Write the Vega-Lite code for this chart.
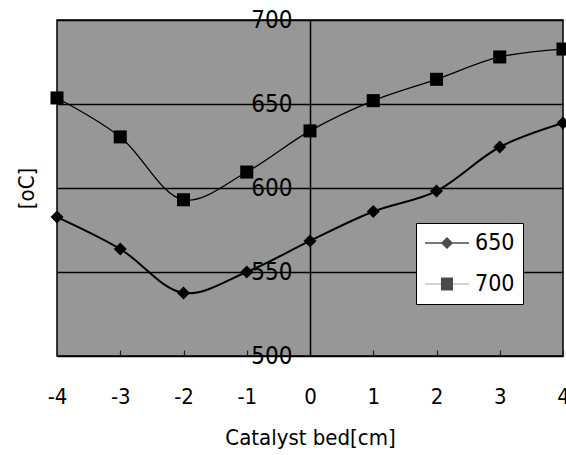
{
  "$schema": "https://vega.github.io/schema/vega-lite/v6.json",
  "width": 506,
  "height": 336,
  "autosize": {"type": "none"},
  "padding": {"left": 57, "top": 20, "right": 3, "bottom": 99},
  "background": "white",
  "config": {
    "view": {"fill": "#979797", "stroke": "black", "strokeWidth": 1.5},
    "font": "DejaVu Sans Condensed, DejaVu Sans"
  },
  "data": {
    "values": [
      {"series": "650", "x": -4, "t": 582.7},
      {"series": "650", "x": -3, "t": 563.7},
      {"series": "650", "x": -2, "t": 537.5},
      {"series": "650", "x": -1, "t": 550},
      {"series": "650", "x": 0, "t": 568.5},
      {"series": "650", "x": 1, "t": 586},
      {"series": "650", "x": 2, "t": 598.2},
      {"series": "650", "x": 3, "t": 624.4},
      {"series": "650", "x": 4, "t": 638.7},
      {"series": "700", "x": -4, "t": 653.6},
      {"series": "700", "x": -3, "t": 630.4},
      {"series": "700", "x": -2, "t": 593},
      {"series": "700", "x": -1, "t": 609.5},
      {"series": "700", "x": 0, "t": 634},
      {"series": "700", "x": 1, "t": 652},
      {"series": "700", "x": 2, "t": 664.7},
      {"series": "700", "x": 3, "t": 678},
      {"series": "700", "x": 4, "t": 682.7}
    ]
  },
  "encoding": {
    "x": {
      "field": "x", "type": "quantitative",
      "scale": {"domain": [-4, 4], "nice": false, "zero": false},
      "axis": {
        "values": [-4, -3, -2, -1, 0, 1, 2, 3, 4],
        "labelExpr": "datum.value < 0 ? '-' + abs(datum.value) : datum.label",
        "grid": false, "domain": false,
        "tickSize": -6, "tickColor": "#222222", "tickWidth": 1.2,
        "labelFontSize": 22, "labelColor": "black", "labelPadding": 36, "labelFlush": false,
        "title": "Catalyst bed[cm]", "titleFontSize": 22, "titleFontWeight": "normal",
        "titleColor": "black", "titlePadding": 20
      }
    },
    "y": {
      "field": "t", "type": "quantitative",
      "scale": {"domain": [500, 700], "nice": false, "zero": false},
      "axis": {
        "values": [500, 550, 600, 650, 700],
        "offset": -253,
        "grid": true, "gridColor": "black", "gridWidth": 1.3,
        "domain": true, "domainColor": "black", "domainWidth": 1.5,
        "ticks": false,
        "labelPadding": 18, "labelFontSize": 24, "labelColor": "black", "labelFlush": false,
        "title": "[oC]", "titleX": -284, "titleY": 168, "titleAngle": -90,
        "titleFontSize": 22, "titleFontWeight": "normal", "titleColor": "black",
        "titleAlign": "center", "titleBaseline": "middle"
      }
    }
  },
  "layer": [
    {
      "mark": {"type": "line", "interpolate": "catmull-rom", "color": "black"},
      "encoding": {
        "detail": {"field": "series"},
        "strokeWidth": {
          "field": "series", "type": "nominal",
          "scale": {"domain": ["650", "700"], "range": [2, 1.3]},
          "legend": null
        }
      }
    },
    {
      "mark": {"type": "point", "filled": true, "color": "black", "opacity": 1, "size": 170},
      "encoding": {
        "shape": {
          "field": "series", "type": "nominal",
          "scale": {"domain": ["650", "700"], "range": ["diamond", "square"]},
          "legend": null
        }
      }
    },
    {
      "transform": [{"filter": "false"}],
      "mark": {"type": "point", "filled": true, "color": "black"},
      "encoding": {
        "shape": {
          "field": "series", "type": "nominal",
          "scale": {
            "domain": ["650", "700"],
            "range": [
              "M-1,-0.06L3,-0.06L3,0.06L-1,0.06ZM0.45,0L1,-0.55L1.55,0L1,0.55Z",
              "M-1,-0.02L3,-0.02L3,0.02L-1,0.02ZM0.45,-0.6L1.55,-0.6L1.55,0.6L0.45,0.6Z"
            ]
          },
          "legend": {
            "orient": "none", "legendX": 359, "legendY": 203,
            "title": null,
            "fillColor": "white", "strokeColor": "black",
            "padding": 8,
            "symbolSize": 484,
            "labelFontSize": 23, "labelColor": "black",
            "labelOffset": 27,
            "rowPadding": 17,
            "encode": {
              "symbols": {
                "update": {
                  "opacity": {"value": 1},
                  "fill": {"value": "black"},
                  "fillOpacity": {"value": 1},
                  "stroke": {"signal": "datum.value == '700' ? '#555555' : 'black'"},
                  "strokeOpacity": {"value": 1},
                  "strokeWidth": {"signal": "datum.value == '700' ? 0.6 : 1"}
                }
              }
            }
          }
        }
      }
    }
  ],
  "resolve": {"scale": {"shape": "independent", "strokeWidth": "independent"}}
}
